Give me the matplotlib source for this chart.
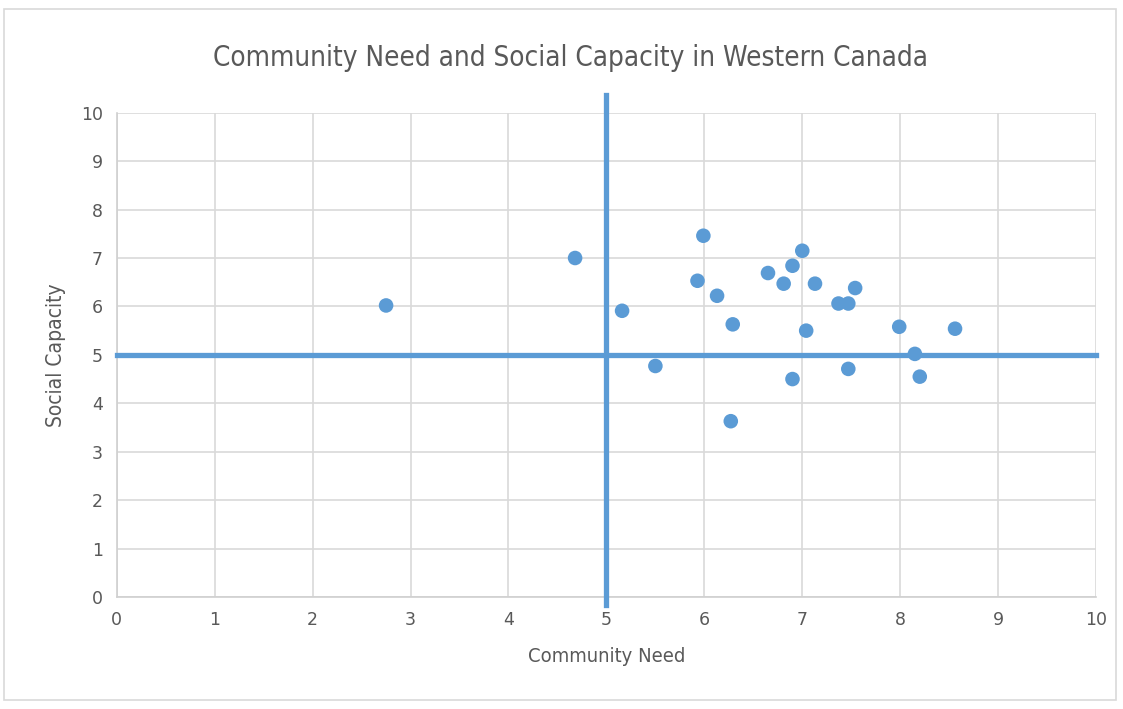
import matplotlib.pyplot as plt
from matplotlib.patches import Rectangle

# Community need (x) and social capacity (y) for each community
need = [2.75, 4.68, 5.16, 5.50, 5.93, 5.99, 6.13, 6.29, 6.27, 6.65, 6.81, 6.90,
        7.00, 6.90, 7.04, 7.13, 7.37, 7.47, 7.54, 7.47, 7.99, 8.15, 8.20, 8.56]
capacity = [6.02, 7.00, 5.91, 4.77, 6.53, 7.46, 6.22, 5.63, 3.63, 6.69, 6.47, 6.84,
            7.15, 4.50, 5.50, 6.47, 6.06, 6.06, 6.38, 4.71, 5.58, 5.02, 4.55, 5.54]
ticks = list(range(0, 11))

blue = '#5b9bd5'
grey = '#595959'

fig = plt.figure(figsize=(11.23, 7.09), dpi=100)
ax = fig.add_axes([0.104, 0.158, 0.872, 0.683])

ax.scatter(need, capacity, s=110, color=blue, zorder=4, edgecolors='none')

# quadrant divider lines
ax.plot([5, 5], [-0.17, 10.37], color=blue, lw=3.8, clip_on=False, zorder=3)
ax.plot([0, 10], [5, 5], color=blue, lw=3.8, clip_on=False, zorder=3)

ax.set_xlim(0, 10)
ax.set_ylim(0, 10)
ax.set_xticks(ticks)
ax.set_yticks(ticks)
ax.grid(True, color='#d9d9d9', lw=1.2)
ax.set_axisbelow(True)
for s in ['top', 'right']:
    ax.spines[s].set_visible(False)
for s in ['left', 'bottom']:
    ax.spines[s].set_color('#d0d0d0')
    ax.spines[s].set_linewidth(1.2)
ax.tick_params(length=0, labelsize=12.5, colors=grey, pad=10)

fig.text(0.508, 0.918, 'Community Need and Social Capacity in Western Canada',
         fontsize=20, color=grey, ha='center', va='center', stretch='condensed')
ax.set_xlabel('Community Need', fontsize=14.5, color=grey, labelpad=13,
              stretch='condensed')
ax.set_ylabel('Social Capacity', fontsize=15, color=grey, labelpad=11,
              stretch='condensed')

fig.patches.append(Rectangle((0.004, 0.012), 0.99, 0.976, transform=fig.transFigure,
                             fill=False, edgecolor='#d9d9d9', lw=1.2))

fig.savefig('out.png', dpi=100)
